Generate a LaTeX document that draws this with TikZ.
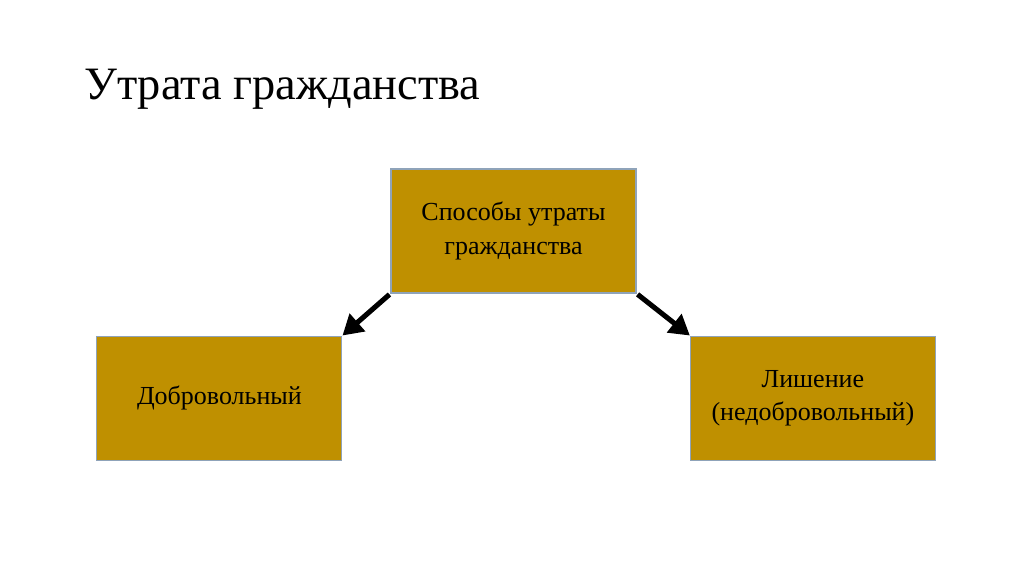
\documentclass[tikz,border=0pt]{standalone}
\usepackage{fontspec}
\setmainfont{Liberation Serif}
\usepackage{tikz}
\usetikzlibrary{arrows.meta,positioning}

\definecolor{boxfill}{HTML}{BF9000}
\definecolor{boxline}{HTML}{8FA3B9}

\begin{document}
\begin{tikzpicture}[
    x=0.75pt,y=-0.75pt,
    box/.style={draw=boxline,fill=boxfill,line width=0.8pt,minimum width=183.75pt,
      minimum height=93pt,align=center,font=\fontsize{19.5}{25}\selectfont,inner sep=4pt},
    heading/.style={anchor=base west,inner sep=0pt,font=\fontsize{34.8}{42}\selectfont},
    flow/.style={-{Triangle[length=15pt,width=17pt]},line width=3.8pt,shorten <=1pt}
  ]
    \useasboundingbox[fill=white] (0,0) rectangle (1024,574);
    \node[heading] (title) at (84,100) {Утрата гражданства};
    \node[box] (ways) at (513.5,231) {Способы утраты\\гражданства};
    \node[box,below left=31.5pt and 36pt of ways.south west] (vol) {Добровольный};
    \node[box,below right=31.5pt and 40pt of ways.south east] (depr) {Лишение\\(недобровольный)};
    \draw[flow] (ways.south west) -- (vol.north east);
    \draw[flow] (ways.south east) -- (depr.north west);
  \end{tikzpicture}
\end{document}
